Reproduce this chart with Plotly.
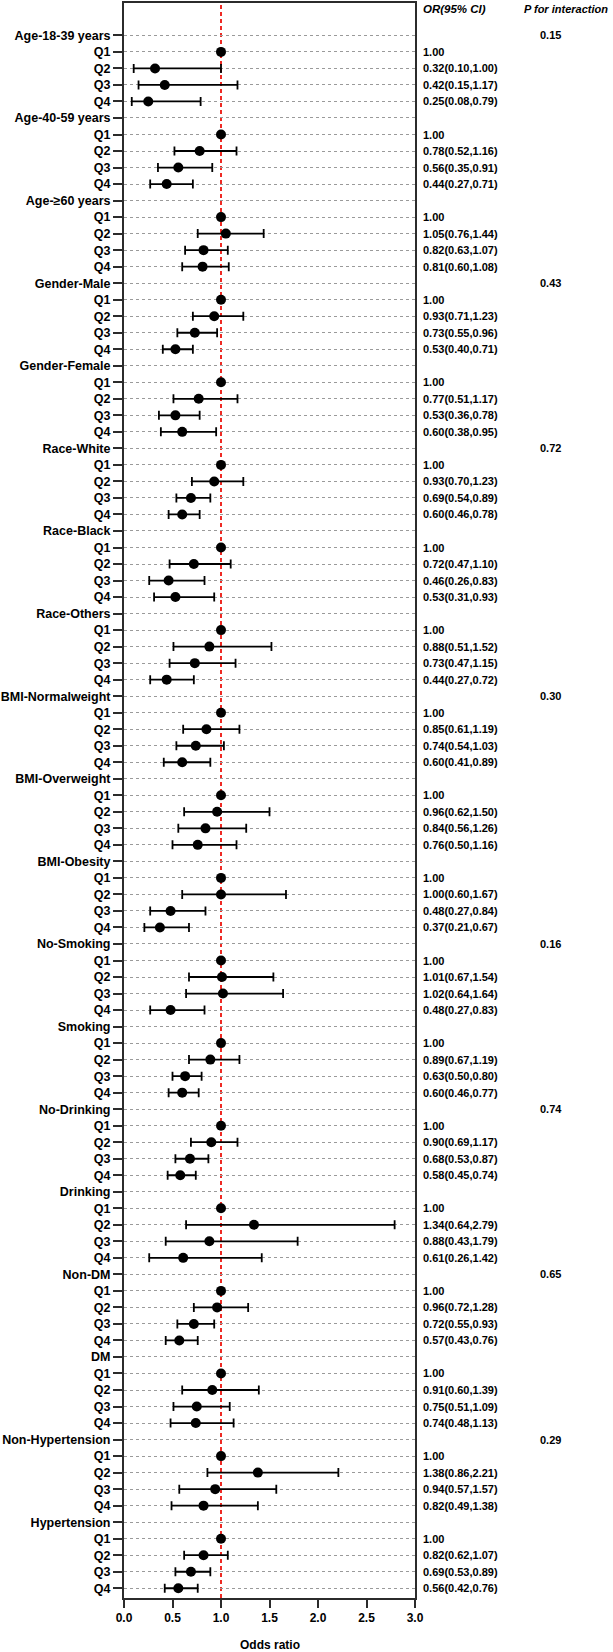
import plotly.graph_objects as go

groups = ["Age-18-39 years", "Age-40-59 years", "Age-≥60 years", "Gender-Male", "Gender-Female",
          "Race-White", "Race-Black", "Race-Others", "BMI-Normalweight", "BMI-Overweight",
          "BMI-Obesity", "No-Smoking", "Smoking", "No-Drinking", "Drinking", "Non-DM", "DM",
          "Non-Hypertension", "Hypertension"]
quartiles = ["Q1", "Q2", "Q3", "Q4"]

or_q2 = [0.32, 0.78, 1.05, 0.93, 0.77, 0.93, 0.72, 0.88, 0.85, 0.96, 1.00, 1.01, 0.89, 0.90, 1.34, 0.96, 0.91, 1.38, 0.82]
lo_q2 = [0.10, 0.52, 0.76, 0.71, 0.51, 0.70, 0.47, 0.51, 0.61, 0.62, 0.60, 0.67, 0.67, 0.69, 0.64, 0.72, 0.60, 0.86, 0.62]
hi_q2 = [1.00, 1.16, 1.44, 1.23, 1.17, 1.23, 1.10, 1.52, 1.19, 1.50, 1.67, 1.54, 1.19, 1.17, 2.79, 1.28, 1.39, 2.21, 1.07]

or_q3 = [0.42, 0.56, 0.82, 0.73, 0.53, 0.69, 0.46, 0.73, 0.74, 0.84, 0.48, 1.02, 0.63, 0.68, 0.88, 0.72, 0.75, 0.94, 0.69]
lo_q3 = [0.15, 0.35, 0.63, 0.55, 0.36, 0.54, 0.26, 0.47, 0.54, 0.56, 0.27, 0.64, 0.50, 0.53, 0.43, 0.55, 0.51, 0.57, 0.53]
hi_q3 = [1.17, 0.91, 1.07, 0.96, 0.78, 0.89, 0.83, 1.15, 1.03, 1.26, 0.84, 1.64, 0.80, 0.87, 1.79, 0.93, 1.09, 1.57, 0.89]

or_q4 = [0.25, 0.44, 0.81, 0.53, 0.60, 0.60, 0.53, 0.44, 0.60, 0.76, 0.37, 0.48, 0.60, 0.58, 0.61, 0.57, 0.74, 0.82, 0.56]
lo_q4 = [0.08, 0.27, 0.60, 0.40, 0.38, 0.46, 0.31, 0.27, 0.41, 0.50, 0.21, 0.27, 0.46, 0.45, 0.26, 0.43, 0.48, 0.49, 0.42]
hi_q4 = [0.79, 0.71, 1.08, 0.71, 0.95, 0.78, 0.93, 0.72, 0.89, 1.16, 0.67, 0.83, 0.77, 0.74, 1.42, 0.76, 1.13, 1.38, 0.76]

ref_or = 1.00

p_groups = ["Age-18-39 years", "Gender-Male", "Race-White", "BMI-Normalweight",
            "No-Smoking", "No-Drinking", "Non-DM", "Non-Hypertension"]
p_values = ["0.15", "0.43", "0.72", "0.30", "0.16", "0.74", "0.65", "0.29"]

x_ticks = [0.0, 0.5, 1.0, 1.5, 2.0, 2.5, 3.0]

# Build rows
labels = []
ref_y, ci_y, ci_x, ci_lo, ci_hi = [], [], [], [], []
or_text_y, or_text = [], []
group_row = {}
r = 0
for gi, g in enumerate(groups):
    labels.append(g)
    group_row[g] = r
    r += 1
    labels.append(quartiles[0])
    ref_y.append(r)
    or_text_y.append(r)
    or_text.append(f"{ref_or:.2f}")
    r += 1
    for qi, (o, lo, hi) in enumerate([(or_q2[gi], lo_q2[gi], hi_q2[gi]),
                                      (or_q3[gi], lo_q3[gi], hi_q3[gi]),
                                      (or_q4[gi], lo_q4[gi], hi_q4[gi])]):
        labels.append(quartiles[qi + 1])
        ci_y.append(r)
        ci_x.append(o)
        ci_lo.append(o - lo)
        ci_hi.append(hi - o)
        or_text_y.append(r)
        or_text.append(f"{o:.2f}({lo:.2f},{hi:.2f})")
        r += 1
n_rows = r

FONT = "Liberation Sans, Arial, sans-serif"
fig = go.Figure()

fig.add_trace(go.Scatter(
    x=ci_x, y=ci_y, mode="markers",
    marker=dict(color="black", size=10),
    error_x=dict(type="data", symmetric=False, array=ci_hi, arrayminus=ci_lo,
                 color="black", thickness=1.8, width=4.5),
    showlegend=False, hoverinfo="skip"))
fig.add_trace(go.Scatter(
    x=[ref_or] * len(ref_y), y=ref_y, mode="markers",
    marker=dict(color="black", size=10),
    showlegend=False, hoverinfo="skip"))

y_top, y_bot = -1.96, n_rows - 1 + 0.59

fig.add_shape(type="line", xref="x", yref="paper", x0=1, x1=1, y0=0, y1=1,
              line=dict(color="#ee2a24", width=2, dash="4px,3px"), layer="between")

annotations = []
for y, t in zip(or_text_y, or_text):
    annotations.append(dict(x=1.022, xref="paper", y=y, yref="y", text=t, showarrow=False,
                            xanchor="left", yanchor="middle",
                            font=dict(family=FONT, size=11, color="black", weight="bold")))
for g, p in zip(p_groups, p_values):
    annotations.append(dict(x=1.467, xref="paper", y=group_row[g], yref="y", text=p, showarrow=False,
                            xanchor="center", yanchor="middle",
                            font=dict(family=FONT, size=11, color="black", weight="bold")))
annotations.append(dict(x=1.02, xref="paper", y=-1.6, yref="y", text="<i>OR(95% CI)</i>",
                        showarrow=False, xanchor="left", yanchor="middle",
                        font=dict(family=FONT, size=11.5, color="black", weight="bold")))
annotations.append(dict(x=1.367, xref="paper", y=-1.6, yref="y", text="<i>P for interaction</i>",
                        showarrow=False, xanchor="left", yanchor="middle",
                        font=dict(family=FONT, size=11, color="black", weight="bold")))
annotations.append(dict(x=0.5, xref="paper", y=-0.0295, yref="paper", text="Odds ratio",
                        showarrow=False, xanchor="center", yanchor="middle",
                        font=dict(family=FONT, size=12, color="black", weight="bold")))

fig.update_layout(
    width=613, height=1652,
    margin=dict(l=123, r=198, t=1, b=54),
    paper_bgcolor="white", plot_bgcolor="white",
    annotations=annotations,
    xaxis=dict(range=[0, 3], tickvals=x_ticks, ticktext=[f"{v:.1f}" for v in x_ticks],
               showgrid=False, zeroline=False, showline=True, mirror=True,
               linecolor="#2b2b2b", linewidth=2, ticks="outside", ticklen=8, tickwidth=2,
               tickcolor="#2b2b2b",
               tickfont=dict(family=FONT, size=12, color="black", weight="bold")),
    yaxis=dict(range=[y_bot, y_top], tickvals=list(range(n_rows)), ticktext=labels,
               showgrid=True, gridcolor="#9a9a9a", gridwidth=1, griddash="dot",
               zeroline=False, showline=True, mirror=True,
               linecolor="#2b2b2b", linewidth=2, ticks="outside", ticklen=9, tickwidth=2,
               tickcolor="#2b2b2b",
               tickfont=dict(family=FONT, size=12.5, color="black", weight="bold")),
)

fig.write_html("out.html", config={"displayModeBar": False},
               post_script="document.body.style.margin='0';")
